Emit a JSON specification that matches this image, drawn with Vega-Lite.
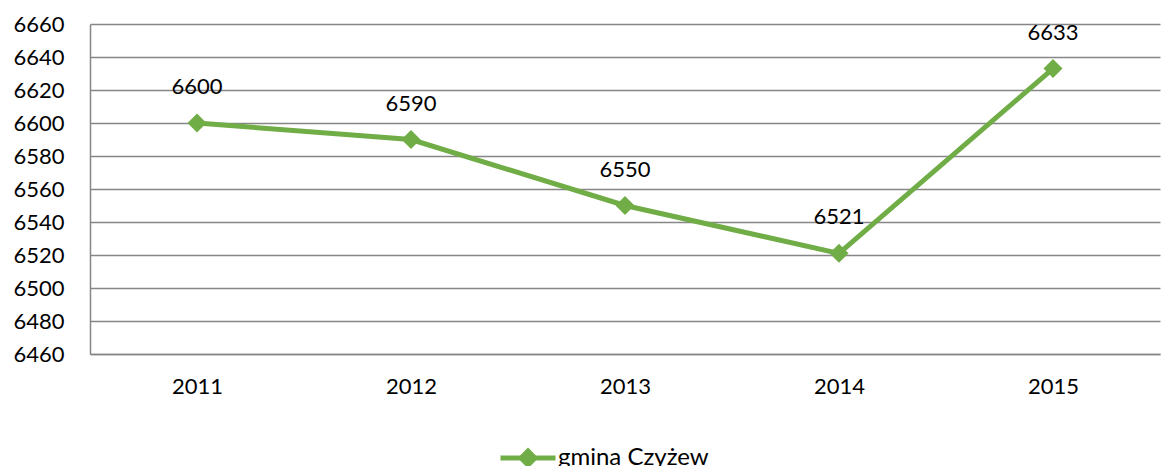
{
  "$schema": "https://vega.github.io/schema/vega-lite/v6.json",
  "width": 1070,
  "height": 330,
  "autosize": "none",
  "padding": {"left": 90, "top": 24, "right": 2, "bottom": 112},
  "background": "white",
  "config": {
    "font": "Lato",
    "view": {"stroke": null},
    "axis": {"labelFont": "Lato", "labelFontSize": 22, "labelColor": "#000000"}
  },
  "data": {
    "values": [
      {"year": "2011", "value": 6600, "series": "gmina Czyżew"},
      {"year": "2012", "value": 6590, "series": "gmina Czyżew"},
      {"year": "2013", "value": 6550, "series": "gmina Czyżew"},
      {"year": "2014", "value": 6521, "series": "gmina Czyżew"},
      {"year": "2015", "value": 6633, "series": "gmina Czyżew"}
    ]
  },
  "encoding": {
    "x": {
      "field": "year", "type": "ordinal",
      "scale": {"type": "point", "padding": 0.5},
      "axis": {"title": null, "labelAngle": 0, "ticks": false, "domainColor": "#868686", "domainWidth": 1.5, "labelPadding": 22, "grid": false}
    },
    "y": {
      "field": "value", "type": "quantitative",
      "scale": {"domain": [6460, 6660], "zero": false, "nice": false},
      "axis": {"title": null, "format": "d", "values": [6460, 6480, 6500, 6520, 6540, 6560, 6580, 6600, 6620, 6640, 6660], "ticks": false, "domainColor": "#868686", "domainWidth": 1.5, "gridColor": "#868686", "gridWidth": 1.5, "labelPadding": 26}
    }
  },
  "layer": [
    {
      "mark": {"type": "line", "strokeWidth": 5, "color": "#70AD47"},
      "encoding": {
        "color": {
          "field": "series", "type": "nominal",
          "scale": {"range": ["#70AD47"]},
          "legend": {
            "title": null,
            "orient": "none",
            "legendX": 408,
            "legendY": 404,
            "symbolType": "M-1,0H1M0,-0.25L0.25,0L0,0.25L-0.25,0Z",
            "symbolSize": 3025,
            "symbolStrokeWidth": 5,
            "symbolStrokeColor": "#70AD47",
            "symbolFillColor": "#70AD47",
            "labelFontSize": 24,
            "labelFont": "Lato",
            "labelColor": "#000000",
            "labelOffset": 0,
            "encode": {
              "symbols": {
                "update": {
                  "stroke": {"value": "#70AD47"},
                  "strokeWidth": {"value": 5},
                  "strokeOpacity": {"value": 1},
                  "fill": {"value": "#70AD47"},
                  "fillOpacity": {"value": 1},
                  "opacity": {"value": 1}
                }
              }
            }
          }
        }
      }
    },
    {
      "mark": {"type": "point", "shape": "diamond", "size": 360, "filled": true, "color": "#70AD47", "opacity": 1}
    },
    {
      "mark": {"type": "text", "dy": -36, "fontSize": 22, "font": "Lato", "color": "#000000"},
      "encoding": {"text": {"field": "value", "type": "quantitative", "format": "d"}}
    }
  ]
}
